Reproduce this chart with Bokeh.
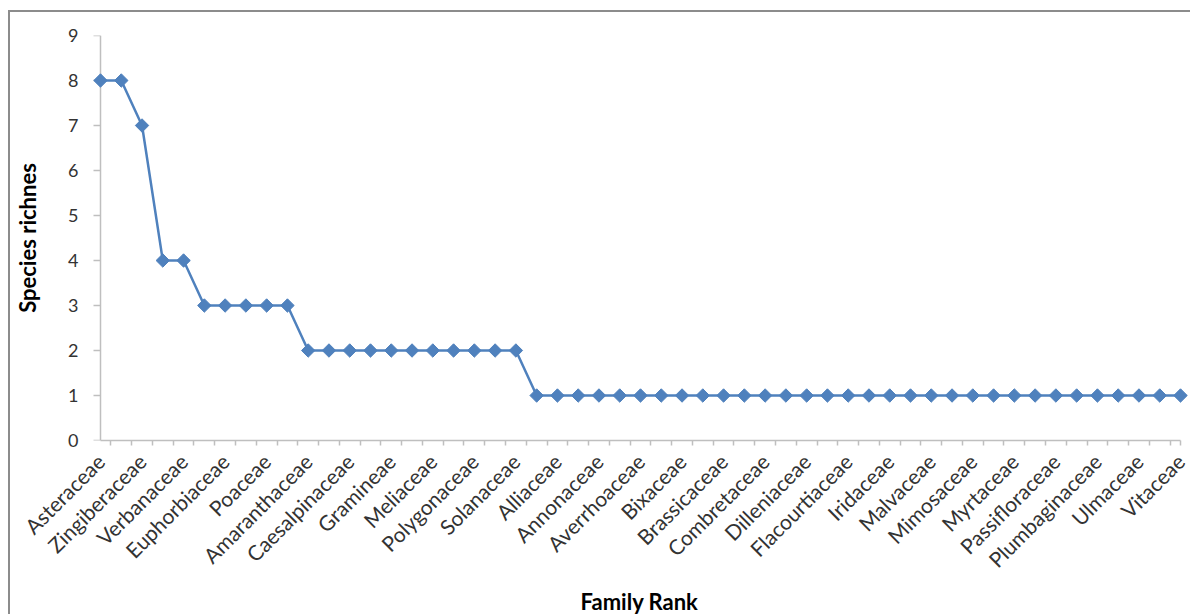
import math
from bokeh.plotting import figure
from bokeh.models import FixedTicker, LinearAxis, Range1d
from bokeh.embed import file_html
from bokeh.resources import INLINE

# Family rank (1 = richest family) and species richness per family
family_rank = list(range(1, 54))
species_richness = [8, 8, 7, 4, 4, 3, 3, 3, 3, 3,
                    2, 2, 2, 2, 2, 2, 2, 2, 2, 2, 2,
                    1, 1, 1, 1, 1, 1, 1, 1, 1, 1,
                    1, 1, 1, 1, 1, 1, 1, 1, 1, 1,
                    1, 1, 1, 1, 1, 1, 1, 1, 1, 1,
                    1, 1]

# Families whose names are printed on the axis (every other rank)
labelled_families = ["Asteraceae", "Zingiberaceae", "Verbanaceae", "Euphorbiaceae",
                     "Poaceae", "Amaranthaceae", "Caesalpinaceae", "Gramineae",
                     "Meliaceae", "Polygonaceae", "Solanaceae", "Alliaceae",
                     "Annonaceae", "Averrhoaceae", "Bixaceae", "Brassicaceae",
                     "Combretaceae", "Dilleniaceae", "Flacourtiaceae", "Iridaceae",
                     "Malvaceae", "Mimosaceae", "Myrtaceae", "Passifloraceae",
                     "Plumbaginaceae", "Ulmaceae", "Vitaceae"]
labelled_ranks = family_rank[::2]
y_ticks = [0, 1, 2, 3, 4, 5, 6, 7, 8, 9]

FONT = "Lato"
TXT = "#333333"
AXIS = "#BFBFBF"
BLUE = "#4F81BD"

p = figure(frame_width=1098, frame_height=405, output_backend="svg", toolbar_location=None,
           x_range=Range1d(0.5185, 53.385), y_range=Range1d(0, 9),
           x_axis_type=None, y_axis_type=None,
           min_border_left=80, min_border_right=2, min_border_top=23, min_border_bottom=0)
p.margin = (10, 0, 0, 8)
p.styles = {"border-top": "2px solid #8C8C8C", "border-left": "2px solid #8C8C8C"}
p.outline_line_color = None

# y axis: labels and title sit at the frame's left edge
ylab = LinearAxis(ticker=FixedTicker(ticks=y_ticks), axis_label="Species richnes")
ylab.axis_line_color = None
ylab.major_tick_line_color = None
ylab.minor_tick_line_color = None
ylab.major_tick_out = 0
ylab.major_tick_in = 0
ylab.major_label_text_font = FONT
ylab.major_label_text_font_size = "18px"
ylab.major_label_text_color = TXT
ylab.major_label_standoff = 12
ylab.axis_label_text_font = FONT
ylab.axis_label_text_font_style = "bold"
ylab.axis_label_text_font_size = "22px"
ylab.axis_label_text_color = "#000000"
ylab.axis_label_standoff = 24
p.add_layout(ylab, "left")

# y axis line and ticks, drawn through the first rank
yline = LinearAxis(fixed_location=family_rank[0], ticker=FixedTicker(ticks=y_ticks))
yline.axis_line_color = AXIS
yline.axis_line_width = 1.5
yline.major_tick_line_color = AXIS
yline.major_tick_line_width = 1.5
yline.major_tick_out = 7
yline.major_tick_in = 0
yline.minor_tick_line_color = None
yline.major_label_text_color = None
p.add_layout(yline, "left")

xaxis = LinearAxis(ticker=FixedTicker(ticks=labelled_ranks,
                                      minor_ticks=[r + 0.5 for r in family_rank[:-1]] + [family_rank[-1]]),
                   major_label_overrides={r: n for r, n in zip(labelled_ranks, labelled_families)},
                   bounds=(family_rank[0], family_rank[-1]),
                   axis_label="Family Rank")
xaxis.major_label_orientation = math.pi / 4
xaxis.axis_line_color = AXIS
xaxis.axis_line_width = 1.5
xaxis.major_tick_out = 0
xaxis.major_tick_in = 0
xaxis.major_tick_line_color = None
xaxis.minor_tick_line_color = AXIS
xaxis.minor_tick_line_width = 1.5
xaxis.minor_tick_out = 5
xaxis.minor_tick_in = 0
xaxis.major_label_text_font = FONT
xaxis.major_label_text_font_size = "21px"
xaxis.major_label_text_color = TXT
xaxis.major_label_standoff = 12
xaxis.axis_label_text_font = FONT
xaxis.axis_label_text_font_style = "bold"
xaxis.axis_label_text_font_size = "22px"
xaxis.axis_label_text_color = "#000000"
xaxis.axis_label_standoff = 4
p.add_layout(xaxis, "below")

p.line(family_rank, species_richness, line_color=BLUE, line_width=2.5, level="overlay")
p.scatter(family_rank, species_richness, marker="square", angle=math.pi / 4, size=9.5,
          fill_color=BLUE, line_color=BLUE, level="overlay")

open("out.html", "w").write(file_html(p, INLINE))
